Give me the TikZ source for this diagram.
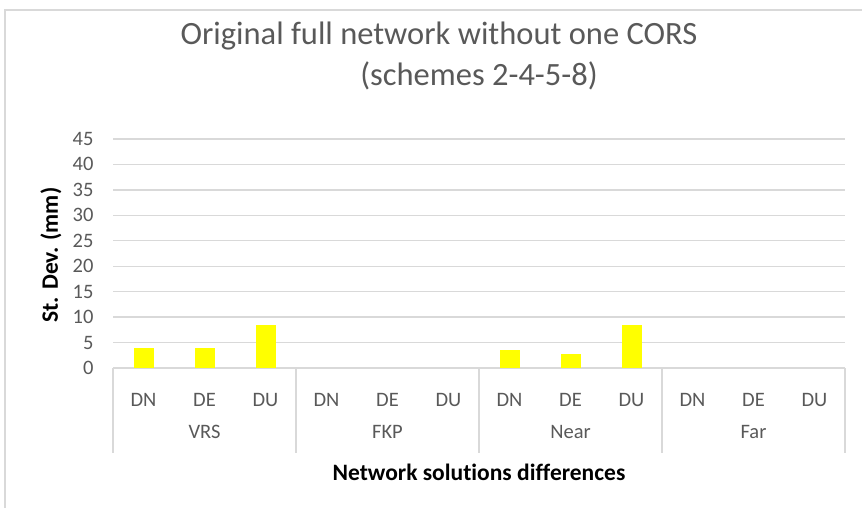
\documentclass[tikz,border=0pt]{standalone}
\usepackage{fontspec}
\setmainfont{Carlito}[Ligatures=NoCommon]
\definecolor{txtgray}{HTML}{595959}
\definecolor{gridgray}{HTML}{D9D9D9}
\definecolor{baryellow}{HTML}{FFFF00}

\begin{document}
\begin{tikzpicture}[x=1pt, y=-1pt,
    tick/.style = {text=txtgray, font=\fontsize{20.5}{24}\selectfont},
    charttitle/.style = {text=txtgray, font=\fontsize{32.5}{38}\selectfont},
    axtitle/.style = {text=black, font=\fontsize{23.5}{28}\selectfont\bfseries},
    grid/.style = {draw=gridgray, line width=1.3pt},
    bar/.style = {fill=baryellow}]
	\useasboundingbox (0,0) rectangle (862,508);
	% chart frame
	\draw[grid] (5,508) -- (5,10) -- (862,10);
	% title
	\node[charttitle] (title1) at (439,36) {Original full network without one CORS};
	\node[charttitle] (title2) at (479,76) {(schemes 2-4-5-8)};
	% value axis
	\foreach \v in {0,5,...,45} {
		\draw[grid] (113,{368-\v*5.09}) -- (845,{368-\v*5.09});
		\node[tick, anchor=east] (tick\v) at (97,{368-\v*5.09}) {\v};
	}
	% category axis
	\foreach \i in {0,...,4}
		\draw[grid] ({113+183*\i},368) -- ({113+183*\i},453);
	\foreach \g [count=\i from 0] in {VRS,FKP,Near,Far} {
		\node[tick] (grp\i) at ({113+183*\i+91.5},432) {\g};
		\foreach \c [count=\j from 0] in {DN,DE,DU}
			\node[tick] (lab\i\j) at ({113+183*\i+61*\j+30.5},400) {\c};
	}
	% bars
	\foreach \k/\v in {0/3.9, 1/3.9, 2/8.45, 6/3.55, 7/2.75, 8/8.45}
		\fill[bar] ({113+61*\k+20.5},368) rectangle ++(20,{-\v*5.09});
	% axis titles
	\node[axtitle] (xtitle) at (479,472) {Network solutions differences};
	\node[axtitle, rotate=90] (ytitle) at (51,255) {St. Dev. (mm)};
\end{tikzpicture}
\end{document}
